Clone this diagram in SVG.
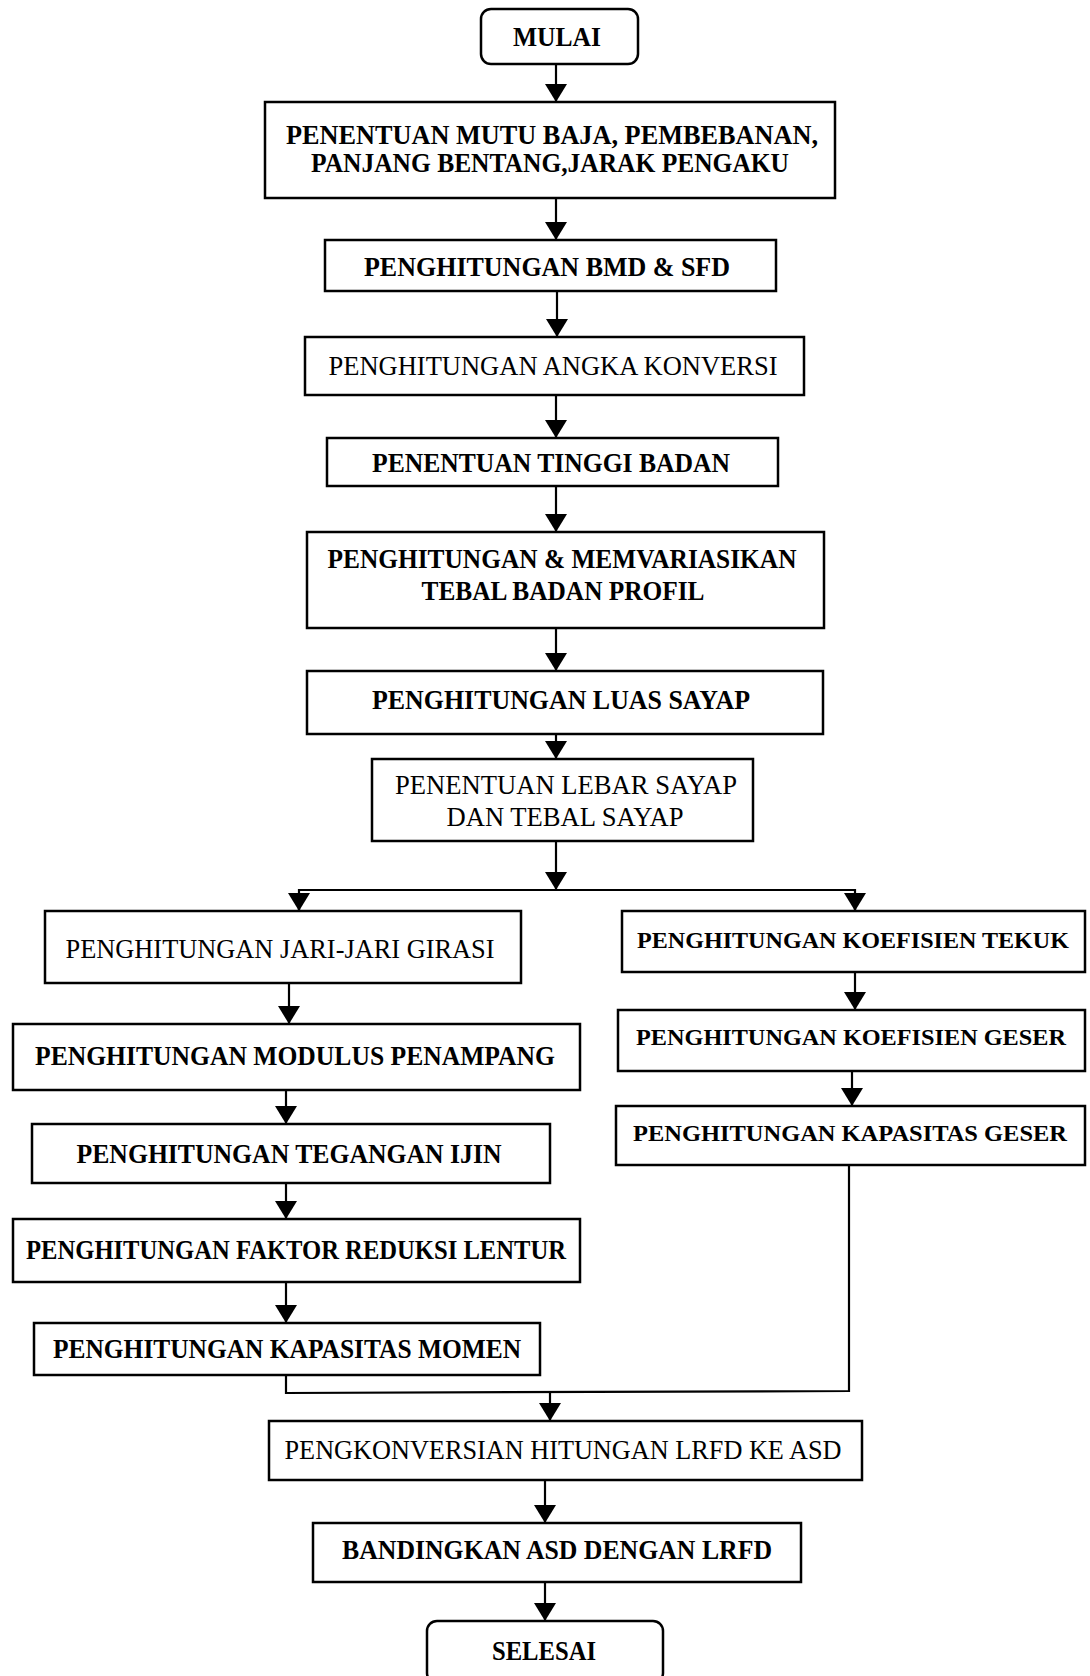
<svg xmlns="http://www.w3.org/2000/svg" width="1090" height="1676" viewBox="0 0 1090 1676">
<style>
.box{fill:#fff;stroke:#000;stroke-width:2.5}
.t{font-family:"Liberation Serif","Times New Roman",serif;font-size:27px;fill:#000;text-anchor:middle}
.b{font-weight:bold}
.s{font-size:24px}
.c{fill:none;stroke:#000;stroke-width:2.2}
</style>
<defs>
<marker id="ah" markerUnits="userSpaceOnUse" markerWidth="20" markerHeight="22" refX="18" refY="11" orient="auto">
<path d="M0,0 L18,11 L0,22 z" fill="#000"/>
</marker>
</defs>
<rect width="1090" height="1676" fill="#fff"/>
<g id="connectors">
<line class="c" x1="556" y1="64" x2="556" y2="102" marker-end="url(#ah)"/>
<line class="c" x1="556" y1="198" x2="556" y2="240" marker-end="url(#ah)"/>
<line class="c" x1="557" y1="291" x2="557" y2="337" marker-end="url(#ah)"/>
<line class="c" x1="556" y1="395" x2="556" y2="438" marker-end="url(#ah)"/>
<line class="c" x1="556" y1="486" x2="556" y2="532" marker-end="url(#ah)"/>
<line class="c" x1="556" y1="628" x2="556" y2="671" marker-end="url(#ah)"/>
<line class="c" x1="556" y1="734" x2="556" y2="759" marker-end="url(#ah)"/>
<line class="c" x1="556" y1="841" x2="556" y2="890" marker-end="url(#ah)"/>
<polyline class="c" points="299,911 299,890 855,890 855,911"/>
<line class="c" x1="299" y1="895" x2="299" y2="911" marker-end="url(#ah)"/>
<line class="c" x1="855" y1="895" x2="855" y2="911" marker-end="url(#ah)"/>
<line class="c" x1="289" y1="983" x2="289" y2="1024" marker-end="url(#ah)"/>
<line class="c" x1="286" y1="1090" x2="286" y2="1124" marker-end="url(#ah)"/>
<line class="c" x1="286" y1="1183" x2="286" y2="1219" marker-end="url(#ah)"/>
<line class="c" x1="286" y1="1282" x2="286" y2="1323" marker-end="url(#ah)"/>
<line class="c" x1="855" y1="972" x2="855" y2="1010" marker-end="url(#ah)"/>
<line class="c" x1="852" y1="1071" x2="852" y2="1106" marker-end="url(#ah)"/>
<polyline class="c" points="286,1375 286,1393 849,1391 849,1165"/>
<line class="c" x1="550" y1="1392" x2="550" y2="1421" marker-end="url(#ah)"/>
<line class="c" x1="545" y1="1480" x2="545" y2="1523" marker-end="url(#ah)"/>
<line class="c" x1="545" y1="1582" x2="545" y2="1621" marker-end="url(#ah)"/>
</g>
<g id="mulai"><rect class="box" x="481" y="9" width="157" height="55" rx="10"/><text class="t b" x="557" y="46" textLength="88" lengthAdjust="spacingAndGlyphs">MULAI</text></g>
<g id="n1"><rect class="box" x="265" y="102" width="570" height="96"/>
<text class="t b" x="552" y="144" textLength="532" lengthAdjust="spacingAndGlyphs">PENENTUAN MUTU BAJA, PEMBEBANAN,</text>
<text class="t b" x="550" y="172" textLength="478" lengthAdjust="spacingAndGlyphs">PANJANG BENTANG,JARAK PENGAKU</text></g>
<g id="n2"><rect class="box" x="325" y="240" width="451" height="51"/><text class="t b" x="547" y="276" textLength="366" lengthAdjust="spacingAndGlyphs">PENGHITUNGAN BMD &amp; SFD</text></g>
<g id="n3"><rect class="box" x="305" y="337" width="499" height="58"/><text class="t" x="553" y="375" textLength="449" lengthAdjust="spacingAndGlyphs">PENGHITUNGAN ANGKA KONVERSI</text></g>
<g id="n4"><rect class="box" x="327" y="438" width="451" height="48"/><text class="t b" x="551" y="472" textLength="358" lengthAdjust="spacingAndGlyphs">PENENTUAN TINGGI BADAN</text></g>
<g id="n5"><rect class="box" x="307" y="532" width="517" height="96"/>
<text class="t b" x="562" y="568" textLength="469" lengthAdjust="spacingAndGlyphs">PENGHITUNGAN &amp; MEMVARIASIKAN</text>
<text class="t b" x="563" y="600" textLength="283" lengthAdjust="spacingAndGlyphs">TEBAL BADAN PROFIL</text></g>
<g id="n6"><rect class="box" x="307" y="671" width="516" height="63"/><text class="t b" x="561" y="709" textLength="378" lengthAdjust="spacingAndGlyphs">PENGHITUNGAN LUAS SAYAP</text></g>
<g id="n7"><rect class="box" x="372" y="759" width="381" height="82"/>
<text class="t" x="566" y="794" textLength="342" lengthAdjust="spacingAndGlyphs">PENENTUAN LEBAR SAYAP</text>
<text class="t" x="565" y="826" textLength="237" lengthAdjust="spacingAndGlyphs">DAN TEBAL SAYAP</text></g>
<g id="l1"><rect class="box" x="45" y="911" width="476" height="72"/><text class="t" x="280" y="958" textLength="429" lengthAdjust="spacingAndGlyphs">PENGHITUNGAN JARI-JARI GIRASI</text></g>
<g id="l2"><rect class="box" x="13" y="1024" width="567" height="66"/><text class="t b" x="295" y="1065" textLength="520" lengthAdjust="spacingAndGlyphs">PENGHITUNGAN MODULUS PENAMPANG</text></g>
<g id="l3"><rect class="box" x="32" y="1124" width="518" height="59"/><text class="t b" x="289" y="1163" textLength="425" lengthAdjust="spacingAndGlyphs">PENGHITUNGAN TEGANGAN  IJIN</text></g>
<g id="l4"><rect class="box" x="13" y="1219" width="567" height="63"/><text class="t b" x="296" y="1259" textLength="540" lengthAdjust="spacingAndGlyphs">PENGHITUNGAN FAKTOR REDUKSI LENTUR</text></g>
<g id="l5"><rect class="box" x="34" y="1323" width="506" height="52"/><text class="t b" x="287" y="1358" textLength="468" lengthAdjust="spacingAndGlyphs">PENGHITUNGAN KAPASITAS MOMEN</text></g>
<g id="r1"><rect class="box" x="622" y="911" width="463" height="61"/><text class="t b s" x="853" y="948" textLength="432" lengthAdjust="spacingAndGlyphs">PENGHITUNGAN KOEFISIEN TEKUK</text></g>
<g id="r2"><rect class="box" x="618" y="1010" width="467" height="61"/><text class="t b s" x="851" y="1045" textLength="430" lengthAdjust="spacingAndGlyphs">PENGHITUNGAN KOEFISIEN GESER</text></g>
<g id="r3"><rect class="box" x="616" y="1106" width="469" height="59"/><text class="t b s" x="850" y="1141" textLength="434" lengthAdjust="spacingAndGlyphs">PENGHITUNGAN KAPASITAS GESER</text></g>
<g id="n8"><rect class="box" x="269" y="1421" width="593" height="59"/><text class="t" x="563" y="1459" textLength="557" lengthAdjust="spacingAndGlyphs">PENGKONVERSIAN HITUNGAN LRFD KE ASD</text></g>
<g id="n9"><rect class="box" x="313" y="1523" width="488" height="59"/><text class="t b" x="557" y="1559" textLength="430" lengthAdjust="spacingAndGlyphs">BANDINGKAN ASD DENGAN LRFD</text></g>
<g id="selesai"><rect class="box" x="427" y="1621" width="236" height="62" rx="10"/><text class="t b" x="544" y="1660" textLength="104" lengthAdjust="spacingAndGlyphs">SELESAI</text></g>
</svg>
